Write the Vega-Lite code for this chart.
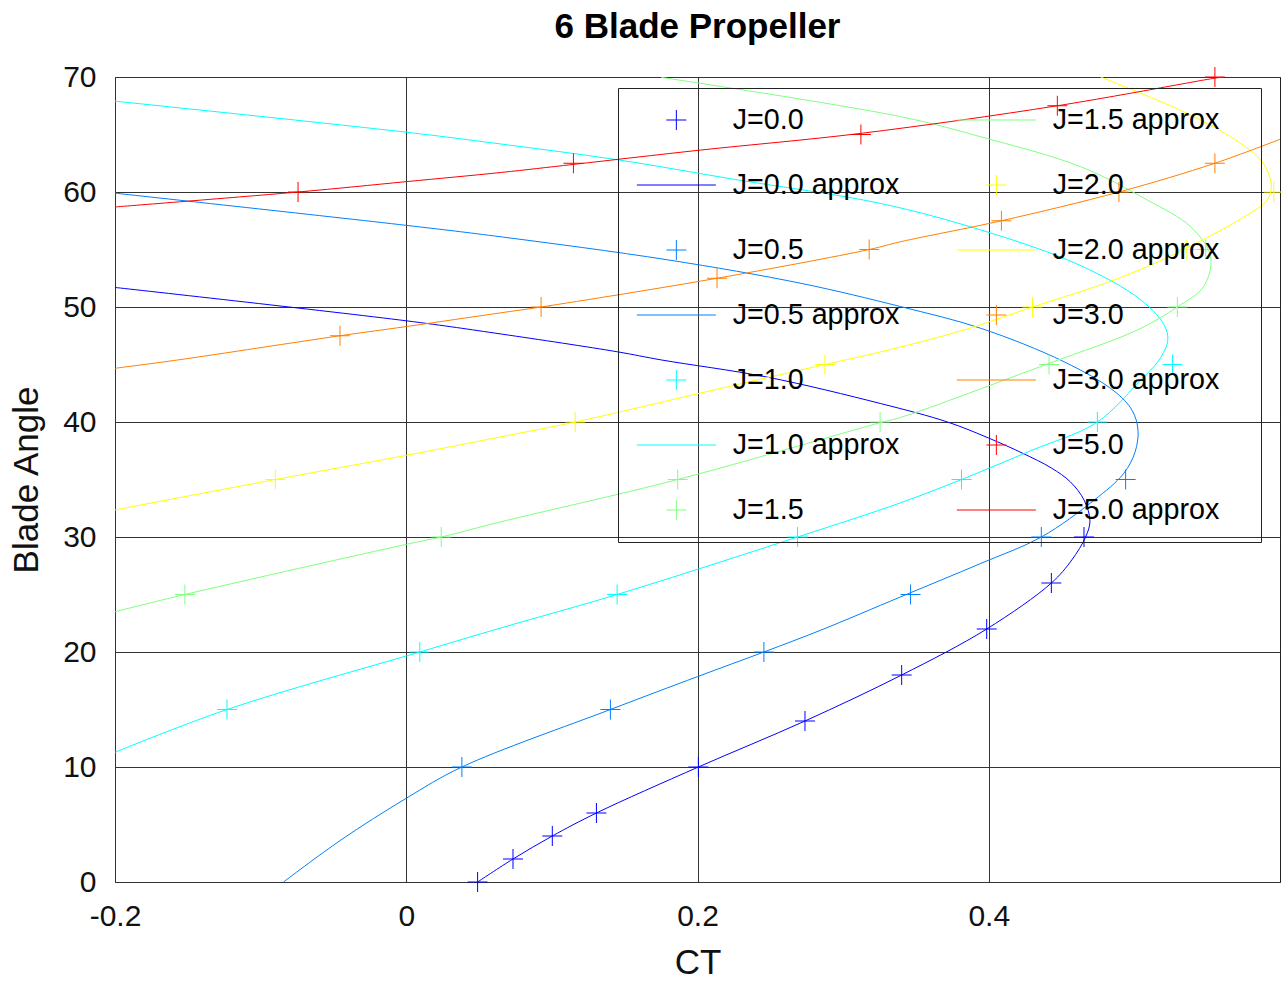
{
 "$schema": "https://vega.github.io/schema/vega-lite/v6.json",
 "width": 1165,
 "height": 805,
 "autosize": {"type": "none"},
 "padding": {"left": 115, "top": 77, "right": 2, "bottom": 101},
 "background": "white",
 "title": {"text": "6 Blade Propeller", "fontSize": 35, "fontWeight": "bold", "font": "Liberation Sans", "color": "#000", "anchor": "middle", "frame": "group", "offset": 17},
 "config": {
  "view": {"stroke": "#222", "strokeWidth": 1},
  "axis": {"grid": true, "gridColor": "#333", "gridWidth": 1, "gridOpacity": 1, "domain": false, "ticks": false, "tickSize": 0, "labelFlush": false, "labelOverlap": false, "labelFont": "Liberation Sans", "labelFontSize": 30, "labelColor": "#111", "titleFont": "Liberation Sans", "titleFontSize": 35, "titleFontWeight": "normal", "titleColor": "#111"}
 },
 "data": {"values": [
  {"s":"J=0.0","k":"d","x":0.049,"y":0},{"s":"J=0.0","k":"d","x":0.0733,"y":2},{"s":"J=0.0","k":"d","x":0.1003,"y":4},{"s":"J=0.0","k":"d","x":0.1306,"y":6},{"s":"J=0.0","k":"d","x":0.2006,"y":10},{"s":"J=0.0","k":"d","x":0.2738,"y":14},{"s":"J=0.0","k":"d","x":0.3402,"y":18},{"s":"J=0.0","k":"d","x":0.3986,"y":22},{"s":"J=0.0","k":"d","x":0.443,"y":26},{"s":"J=0.0","k":"d","x":0.4654,"y":30},
  {"s":"J=0.5","k":"d","x":0.0382,"y":10},{"s":"J=0.5","k":"d","x":0.1402,"y":15},{"s":"J=0.5","k":"d","x":0.2456,"y":20},{"s":"J=0.5","k":"d","x":0.3463,"y":25},{"s":"J=0.5","k":"d","x":0.4361,"y":30},{"s":"J=0.5","k":"d","x":0.494,"y":35},
  {"s":"J=1.0","k":"d","x":-0.1231,"y":15},{"s":"J=1.0","k":"d","x":0.0093,"y":20},{"s":"J=1.0","k":"d","x":0.1448,"y":25},{"s":"J=1.0","k":"d","x":0.2687,"y":30},{"s":"J=1.0","k":"d","x":0.3813,"y":35},{"s":"J=1.0","k":"d","x":0.4746,"y":40},{"s":"J=1.0","k":"d","x":0.5262,"y":45},
  {"s":"J=1.5","k":"d","x":-0.152,"y":25},{"s":"J=1.5","k":"d","x":0.024,"y":30},{"s":"J=1.5","k":"d","x":0.1864,"y":35},{"s":"J=1.5","k":"d","x":0.3254,"y":40},{"s":"J=1.5","k":"d","x":0.4414,"y":45},{"s":"J=1.5","k":"d","x":0.5295,"y":50},{"s":"J=1.5","k":"d","x":0.549,"y":55},
  {"s":"J=2.0","k":"d","x":-0.0899,"y":35},{"s":"J=2.0","k":"d","x":0.116,"y":40},{"s":"J=2.0","k":"d","x":0.2875,"y":45},{"s":"J=2.0","k":"d","x":0.43,"y":50},{"s":"J=2.0","k":"d","x":0.536,"y":55},{"s":"J=2.0","k":"d","x":0.5957,"y":60},
  {"s":"J=3.0","k":"d","x":-0.0455,"y":47.5},{"s":"J=3.0","k":"d","x":0.0926,"y":50},{"s":"J=3.0","k":"d","x":0.2134,"y":52.5},{"s":"J=3.0","k":"d","x":0.3179,"y":55},{"s":"J=3.0","k":"d","x":0.4087,"y":57.5},{"s":"J=3.0","k":"d","x":0.4894,"y":60},{"s":"J=3.0","k":"d","x":0.5553,"y":62.5},
  {"s":"J=5.0","k":"d","x":-0.0743,"y":60},{"s":"J=5.0","k":"d","x":0.1148,"y":62.5},{"s":"J=5.0","k":"d","x":0.3122,"y":65},{"s":"J=5.0","k":"d","x":0.4471,"y":67.5},{"s":"J=5.0","k":"d","x":0.5553,"y":70},

  {"s":"J=0.0 approx","k":"a","x":0.049,"y":0},{"s":"J=0.0 approx","k":"a","x":0.0733,"y":2},{"s":"J=0.0 approx","k":"a","x":0.1003,"y":4},{"s":"J=0.0 approx","k":"a","x":0.1306,"y":6},{"s":"J=0.0 approx","k":"a","x":0.2006,"y":10},{"s":"J=0.0 approx","k":"a","x":0.2738,"y":14},{"s":"J=0.0 approx","k":"a","x":0.3402,"y":18},{"s":"J=0.0 approx","k":"a","x":0.3986,"y":22},{"s":"J=0.0 approx","k":"a","x":0.443,"y":26},{"s":"J=0.0 approx","k":"a","x":0.457,"y":28},{"s":"J=0.0 approx","k":"a","x":0.4665,"y":30},{"s":"J=0.0 approx","k":"a","x":0.4695,"y":31.4},{"s":"J=0.0 approx","k":"a","x":0.4655,"y":33.2},{"s":"J=0.0 approx","k":"a","x":0.456,"y":34.8},{"s":"J=0.0 approx","k":"a","x":0.443,"y":36.0},{"s":"J=0.0 approx","k":"a","x":0.423,"y":37.3},{"s":"J=0.0 approx","k":"a","x":0.4,"y":38.6},{"s":"J=0.0 approx","k":"a","x":0.3717,"y":40.0},{"s":"J=0.0 approx","k":"a","x":0.3259,"y":41.6},{"s":"J=0.0 approx","k":"a","x":0.248,"y":43.9},{"s":"J=0.0 approx","k":"a","x":0.175,"y":45.4},{"s":"J=0.0 approx","k":"a","x":0.1452,"y":46.1},{"s":"J=0.0 approx","k":"a","x":0.0652,"y":47.65},{"s":"J=0.0 approx","k":"a","x":0,"y":48.8},{"s":"J=0.0 approx","k":"a","x":-0.2,"y":51.7},

  {"s":"J=0.5 approx","k":"a","x":-0.0843,"y":0},{"s":"J=0.5 approx","k":"a","x":-0.0449,"y":3.65},{"s":"J=0.5 approx","k":"a","x":0,"y":7.28},{"s":"J=0.5 approx","k":"a","x":0.0382,"y":10},{"s":"J=0.5 approx","k":"a","x":0.1402,"y":15},{"s":"J=0.5 approx","k":"a","x":0.2,"y":17.86},{"s":"J=0.5 approx","k":"a","x":0.2456,"y":20},{"s":"J=0.5 approx","k":"a","x":0.2847,"y":21.9},{"s":"J=0.5 approx","k":"a","x":0.3396,"y":24.8},{"s":"J=0.5 approx","k":"a","x":0.3945,"y":27.7},{"s":"J=0.5 approx","k":"a","x":0.4361,"y":30},{"s":"J=0.5 approx","k":"a","x":0.4723,"y":33.2},{"s":"J=0.5 approx","k":"a","x":0.4925,"y":35.5},{"s":"J=0.5 approx","k":"a","x":0.5005,"y":37.4},{"s":"J=0.5 approx","k":"a","x":0.5025,"y":39.3},{"s":"J=0.5 approx","k":"a","x":0.4985,"y":41},{"s":"J=0.5 approx","k":"a","x":0.486,"y":42.7},{"s":"J=0.5 approx","k":"a","x":0.4517,"y":45.24},{"s":"J=0.5 approx","k":"a","x":0.3945,"y":48.15},{"s":"J=0.5 approx","k":"a","x":0.3396,"y":50.03},{"s":"J=0.5 approx","k":"a","x":0.271,"y":52.06},{"s":"J=0.5 approx","k":"a","x":0.1796,"y":54.1},{"s":"J=0.5 approx","k":"a","x":0.0652,"y":56.1},{"s":"J=0.5 approx","k":"a","x":0,"y":57.1},{"s":"J=0.5 approx","k":"a","x":-0.2,"y":59.9},

  {"s":"J=1.0 approx","k":"a","x":-0.2,"y":11.28},{"s":"J=1.0 approx","k":"a","x":-0.1231,"y":15},{"s":"J=1.0 approx","k":"a","x":0.0093,"y":20},{"s":"J=1.0 approx","k":"a","x":0.0652,"y":22.1},{"s":"J=1.0 approx","k":"a","x":0.1448,"y":25},{"s":"J=1.0 approx","k":"a","x":0.2687,"y":30},{"s":"J=1.0 approx","k":"a","x":0.3396,"y":32.98},{"s":"J=1.0 approx","k":"a","x":0.3813,"y":35},{"s":"J=1.0 approx","k":"a","x":0.4288,"y":37.5},{"s":"J=1.0 approx","k":"a","x":0.4746,"y":40},{"s":"J=1.0 approx","k":"a","x":0.5043,"y":43.65},{"s":"J=1.0 approx","k":"a","x":0.5165,"y":45.3},{"s":"J=1.0 approx","k":"a","x":0.5225,"y":46.8},{"s":"J=1.0 approx","k":"a","x":0.5225,"y":47.8},{"s":"J=1.0 approx","k":"a","x":0.5175,"y":49.0},{"s":"J=1.0 approx","k":"a","x":0.5075,"y":50.3},{"s":"J=1.0 approx","k":"a","x":0.4906,"y":51.8},{"s":"J=1.0 approx","k":"a","x":0.454,"y":54.1},{"s":"J=1.0 approx","k":"a","x":0.3945,"y":56.7},{"s":"J=1.0 approx","k":"a","x":0.3259,"y":59.0},{"s":"J=1.0 approx","k":"a","x":0.2253,"y":61.1},{"s":"J=1.0 approx","k":"a","x":0.1452,"y":62.8},{"s":"J=1.0 approx","k":"a","x":0.0652,"y":64.17},{"s":"J=1.0 approx","k":"a","x":0,"y":65.2},{"s":"J=1.0 approx","k":"a","x":-0.2,"y":67.9},

  {"s":"J=1.5 approx","k":"a","x":-0.2,"y":23.5},{"s":"J=1.5 approx","k":"a","x":-0.152,"y":25},{"s":"J=1.5 approx","k":"a","x":0,"y":29.36},{"s":"J=1.5 approx","k":"a","x":0.024,"y":30},{"s":"J=1.5 approx","k":"a","x":0.0652,"y":31.33},{"s":"J=1.5 approx","k":"a","x":0.1864,"y":35},{"s":"J=1.5 approx","k":"a","x":0.3254,"y":39.94},{"s":"J=1.5 approx","k":"a","x":0.3396,"y":40.4},{"s":"J=1.5 approx","k":"a","x":0.4414,"y":45.1},{"s":"J=1.5 approx","k":"a","x":0.502,"y":48.0},{"s":"J=1.5 approx","k":"a","x":0.5295,"y":50},{"s":"J=1.5 approx","k":"a","x":0.5477,"y":51.8},{"s":"J=1.5 approx","k":"a","x":0.5523,"y":54.4},{"s":"J=1.5 approx","k":"a","x":0.5386,"y":56.98},{"s":"J=1.5 approx","k":"a","x":0.5089,"y":59.3},{"s":"J=1.5 approx","k":"a","x":0.4631,"y":62.2},{"s":"J=1.5 approx","k":"a","x":0.3945,"y":64.8},{"s":"J=1.5 approx","k":"a","x":0.3396,"y":66.55},{"s":"J=1.5 approx","k":"a","x":0.175,"y":69.97},

  {"s":"J=2.0 approx","k":"a","x":-0.2,"y":32.35},{"s":"J=2.0 approx","k":"a","x":-0.0899,"y":35},{"s":"J=2.0 approx","k":"a","x":0,"y":37.1},{"s":"J=2.0 approx","k":"a","x":0.0652,"y":38.72},{"s":"J=2.0 approx","k":"a","x":0.116,"y":40},{"s":"J=2.0 approx","k":"a","x":0.2253,"y":43.2},{"s":"J=2.0 approx","k":"a","x":0.2875,"y":45},{"s":"J=2.0 approx","k":"a","x":0.3259,"y":46.1},{"s":"J=2.0 approx","k":"a","x":0.383,"y":48.0},{"s":"J=2.0 approx","k":"a","x":0.43,"y":50},{"s":"J=2.0 approx","k":"a","x":0.474,"y":51.8},{"s":"J=2.0 approx","k":"a","x":0.505,"y":53.3},{"s":"J=2.0 approx","k":"a","x":0.537,"y":55.2},{"s":"J=2.0 approx","k":"a","x":0.5775,"y":58.0},{"s":"J=2.0 approx","k":"a","x":0.5912,"y":59.3},{"s":"J=2.0 approx","k":"a","x":0.594,"y":60.3},{"s":"J=2.0 approx","k":"a","x":0.593,"y":61.3},{"s":"J=2.0 approx","k":"a","x":0.5866,"y":62.8},{"s":"J=2.0 approx","k":"a","x":0.566,"y":64.8},{"s":"J=2.0 approx","k":"a","x":0.5317,"y":67.1},{"s":"J=2.0 approx","k":"a","x":0.4768,"y":70},

  {"s":"J=3.0 approx","k":"a","x":-0.2,"y":44.67},{"s":"J=3.0 approx","k":"a","x":-0.1566,"y":45.4},{"s":"J=3.0 approx","k":"a","x":-0.0455,"y":47.5},{"s":"J=3.0 approx","k":"a","x":0,"y":48.3},{"s":"J=3.0 approx","k":"a","x":0.0652,"y":49.5},{"s":"J=3.0 approx","k":"a","x":0.0926,"y":50},{"s":"J=3.0 approx","k":"a","x":0.2134,"y":52.5},{"s":"J=3.0 approx","k":"a","x":0.3179,"y":55},{"s":"J=3.0 approx","k":"a","x":0.3396,"y":55.68},{"s":"J=3.0 approx","k":"a","x":0.4087,"y":57.5},{"s":"J=3.0 approx","k":"a","x":0.4894,"y":60},{"s":"J=3.0 approx","k":"a","x":0.5553,"y":62.5},{"s":"J=3.0 approx","k":"a","x":0.6003,"y":64.6},

  {"s":"J=5.0 approx","k":"a","x":-0.2,"y":58.7},{"s":"J=5.0 approx","k":"a","x":-0.0743,"y":60},{"s":"J=5.0 approx","k":"a","x":0,"y":60.9},{"s":"J=5.0 approx","k":"a","x":0.0652,"y":61.7},{"s":"J=5.0 approx","k":"a","x":0.1148,"y":62.4},{"s":"J=5.0 approx","k":"a","x":0.2024,"y":63.65},{"s":"J=5.0 approx","k":"a","x":0.3122,"y":65.1},{"s":"J=5.0 approx","k":"a","x":0.4471,"y":67.5},{"s":"J=5.0 approx","k":"a","x":0.5553,"y":69.9},{"s":"J=5.0 approx","k":"a","x":0.561,"y":70}
 ]},
 "encoding": {
  "x": {"field": "x", "type": "quantitative", "scale": {"domain": [-0.2, 0.6], "nice": false, "zero": false}, "axis": {"title": "CT", "values": [-0.2, 0, 0.2, 0.4], "labelExpr": "datum.value < 0 ? '-' + format(-datum.value, '~g') : format(datum.value, '~g')", "labelPadding": 19, "titlePadding": 14}},
  "y": {"field": "y", "type": "quantitative", "scale": {"domain": [0, 70], "nice": false, "zero": false}, "axis": {"title": "Blade Angle", "values": [0, 10, 20, 30, 40, 50, 60, 70], "labelPadding": 19, "titlePadding": 18}},
  "color": {"field": "s", "type": "nominal",
   "scale": {"domain": ["J=0.0", "J=0.0 approx", "J=0.5", "J=0.5 approx", "J=1.0", "J=1.0 approx", "J=1.5", "J=1.5 approx", "J=2.0", "J=2.0 approx", "J=3.0", "J=3.0 approx", "J=5.0", "J=5.0 approx"],
             "range": ["#0000ff", "#0000ff", "#0080ff", "#0080ff", "#00ffff", "#00ffff", "#80ff80", "#80ff80", "#ffff00", "#ffff00", "#ff8000", "#ff8000", "#ff0000", "#ff0000"]},
   "legend": {"title": " ", "titleOrient": "right", "titlePadding": 25, "titleFontSize": 28, "titleColor": "#000",
    "orient": "none", "legendX": 503, "legendY": 11, "direction": "vertical", "columns": 2, "columnPadding": 55, "rowPadding": 35, "clipHeight": 30, "symbolSize": 6241, "symbolStrokeWidth": 1, "symbolType": "stroke", "labelFont": "Liberation Sans", "labelFontSize": 28.7, "labelColor": "#000", "labelOffset": 42, "labelLimit": 400, "padding": 17, "strokeColor": "#222", "fillColor": "transparent", "symbolOffset": 27,
    "encode": {"symbols": {"update": {
      "shape": {"signal": "test(/approx/, datum.value) ? 'stroke' : 'M-1,0H1M0,-1V1'"},
      "size": {"signal": "test(/approx/, datum.value) ? 6241 : 400"},
      "stroke": {"scale": "color", "field": "value"},
      "fill": {"value": "transparent"},
      "strokeWidth": {"value": 1},
      "opacity": {"value": 1}}}}}
  }
 },
 "layer": [
  {"transform": [{"filter": "datum.k == 'a'"}],
   "mark": {"type": "line", "clip": true, "strokeWidth": 1, "interpolate": "catmull-rom"},
   "encoding": {"order": {"field": "y", "type": "quantitative"}}},
  {"transform": [{"filter": "datum.k == 'd'"}],
   "mark": {"type": "point", "shape": "M-1,0H1M0,-1V1", "size": 400, "filled": false, "strokeWidth": 1, "opacity": 1}}
 ]
}
